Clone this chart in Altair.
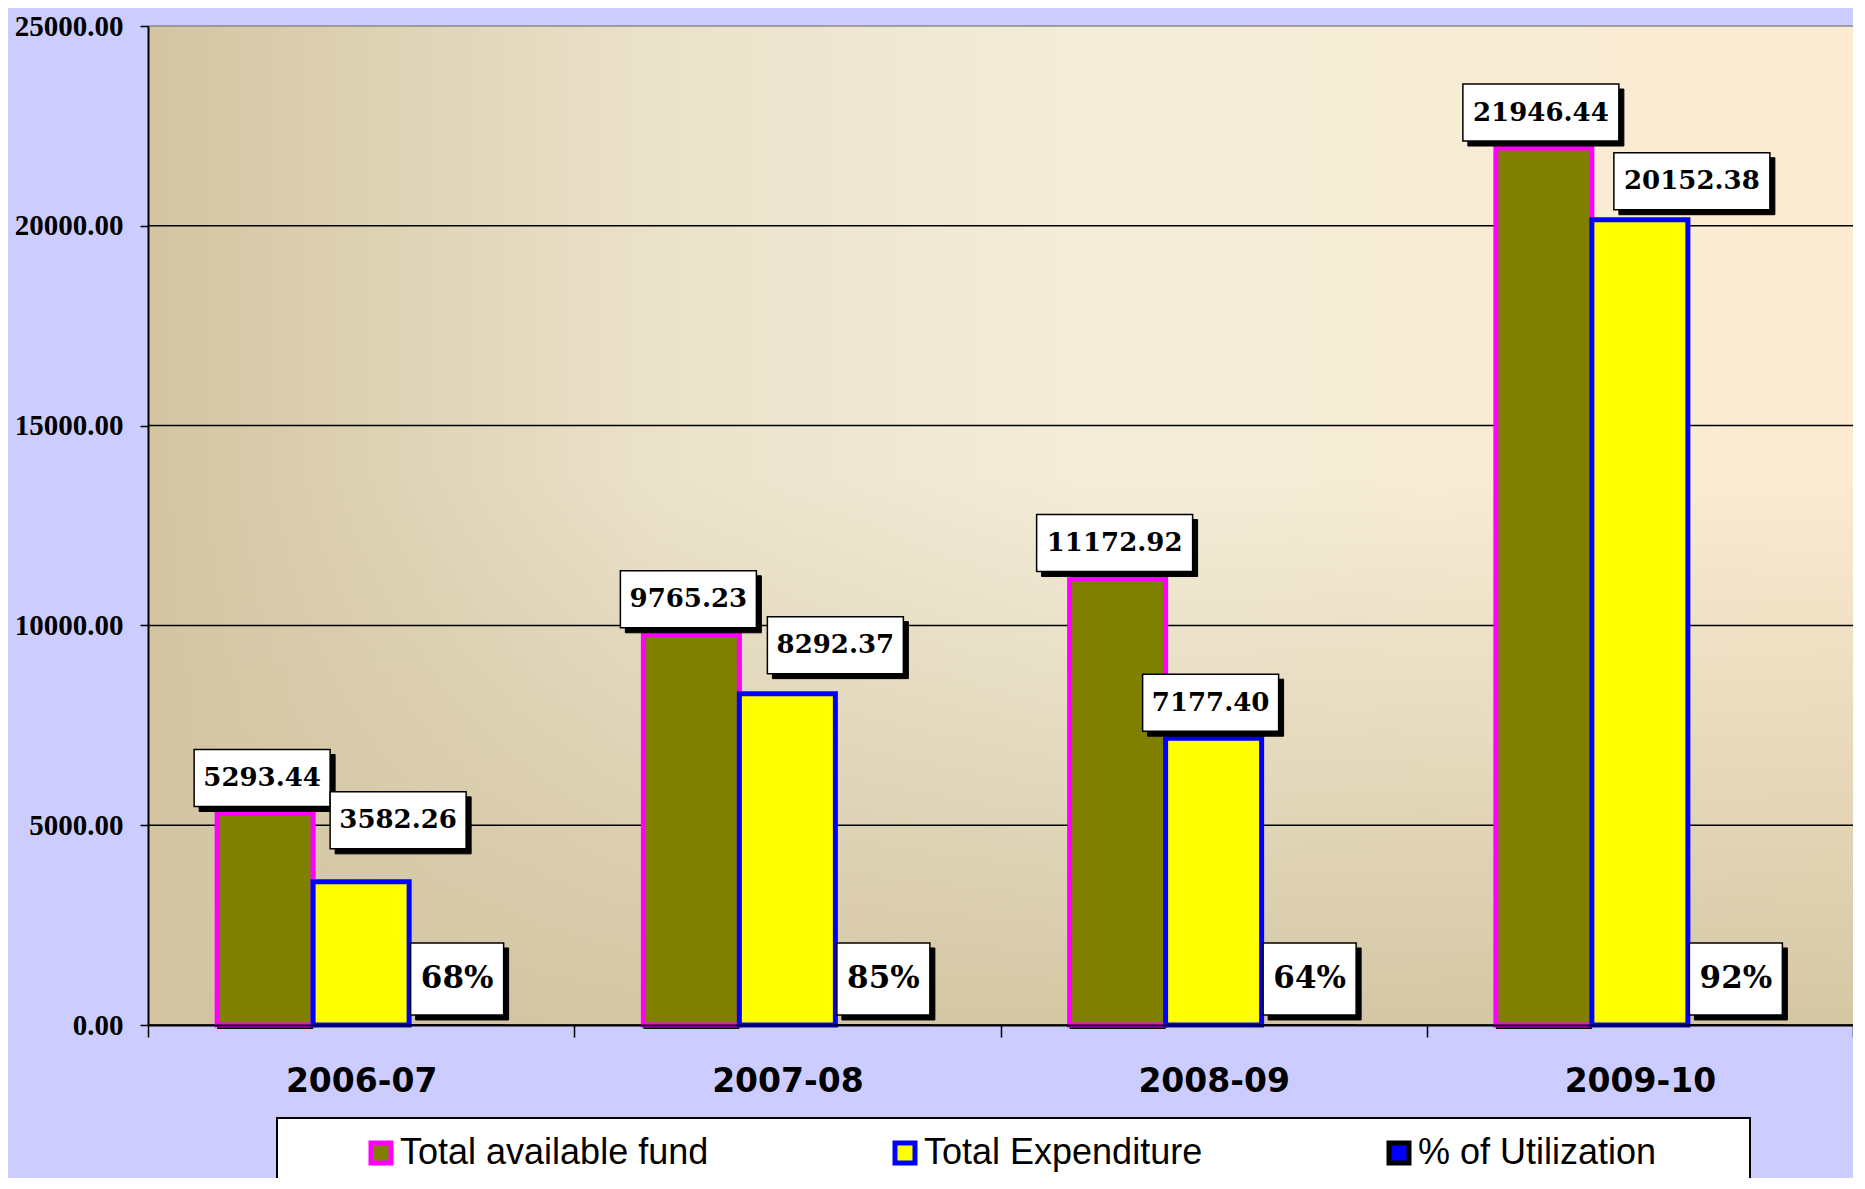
import altair as alt
import pandas as pd

# ---------------- data ----------------
years = ["2006-07", "2007-08", "2008-09", "2009-10"]
fund = [5293.44, 9765.23, 11172.92, 21946.44]
expenditure = [3582.26, 8292.37, 7177.40, 20152.38]
utilization_pct = [68, 85, 64, 92]
series_names = ["Total available fund", "Total Expenditure", "% of Utilization"]
y_ticks = [0, 5000, 10000, 15000, 20000, 25000]

# ---------------- style ----------------
fill_colors = ["#808000", "#FFFF00", "#0000FF"]
stroke_colors = ["#FF00FF", "#0000FF", "#000000"]
W, H = 1705, 999

# label nudges (pixels) for the expenditure labels, as placed in the original
exp_dx = [37, 48, -3, 52]
exp_gap = [33, 20, 7, 10]

rows = []
for i, yr in enumerate(years):
    rows.append(dict(year=yr, series=series_names[0], value=fund[i], label=f"{fund[i]:.2f}"))
    rows.append(dict(year=yr, series=series_names[1], value=expenditure[i], label=f"{expenditure[i]:.2f}"))
    rows.append(dict(year=yr, series=series_names[2], value=utilization_pct[i] / 100.0,
                     label=f"{utilization_pct[i]}%"))
bars = pd.DataFrame(rows)

X = alt.X("year:N", sort=years,
          scale=alt.Scale(paddingInner=0, paddingOuter=0),
          axis=alt.Axis(title=None, labelAngle=0, tickBand="extent", tickSize=12,
                        tickColor="black", tickWidth=1.5, domainColor="black",
                        domainWidth=2, labelFont="DejaVu Sans", labelFontWeight="bold",
                        labelFontSize=33, labelColor="black", labelPadding=44,
                        labelBaseline="middle", zindex=1))
XO = alt.XOffset("series:N", sort=series_names,
                 scale=alt.Scale(domain=series_names, paddingInner=0, paddingOuter=0.72))
Y = alt.Y("value:Q", scale=alt.Scale(domain=[0, 25000], nice=False, zero=True),
          axis=alt.Axis(values=y_ticks, format=".2f", title=None, grid=False,
                        domainColor="black", domainWidth=2, tickColor="black",
                        tickSize=8, tickWidth=1.5, labelFont="Liberation Serif",
                        labelFontWeight="bold", labelFontSize=29, labelColor="black",
                        labelPadding=17, zindex=1))

one = alt.Data(values=[{}])

# plot-area background gradient
bg_h = alt.Chart(one).mark_rect(
    fill={"gradient": "linear", "x1": 0, "x2": 1, "y1": 0, "y2": 0,
          "stops": [{"offset": 0, "color": "#D3C5A2"},
                    {"offset": 0.3, "color": "#EBE2CA"},
                    {"offset": 0.55, "color": "#F3EDD9"},
                    {"offset": 1, "color": "#FCEBD0"}]}
).encode(x=alt.value(0), x2=alt.value(W), y=alt.value(0), y2=alt.value(H))
bg_v = alt.Chart(one).mark_rect(
    fill={"gradient": "linear", "x1": 0, "x2": 0, "y1": 0, "y2": 1,
          "stops": [{"offset": 0, "color": "rgba(211,197,162,0)"},
                    {"offset": 0.45, "color": "rgba(211,197,162,0)"},
                    {"offset": 1, "color": "rgba(211,197,162,0.95)"}]}
).encode(x=alt.value(0), x2=alt.value(W), y=alt.value(0), y2=alt.value(H))

grid = alt.Chart(pd.DataFrame({"value": y_ticks})).mark_rule(strokeWidth=1.5).encode(
    y=Y, x=alt.value(0), x2=alt.value(W),
    color=alt.condition("datum.value == 25000", alt.value("#8a8a8a"), alt.value("black")))

legend_box = alt.Chart(one).mark_rect(fill="white", stroke="black", strokeWidth=2).encode(
    x=alt.value(129), x2=alt.value(1602), y=alt.value(1092), y2=alt.value(1260))

bar_shadow = alt.Chart(bars[bars.series == series_names[0]]).mark_bar(
    color="black", xOffset=6, yOffset=4).encode(x=X, xOffset=XO, y=Y)

LEG = alt.Legend(title=None, orient="none", legendX=215, legendY=1109,
                 direction="horizontal", columns=3, columnPadding=176,
                 symbolType="square", symbolSize=400, symbolStrokeWidth=5,
                 labelFont="Liberation Sans", labelFontSize=36, labelColor="black",
                 labelOffset=1, labelLimit=0, padding=0)

main_bars = alt.Chart(bars).mark_bar(opacity=1).encode(
    x=X, xOffset=XO, y=Y,
    fill=alt.Fill("series:N", sort=series_names,
                  scale=alt.Scale(domain=series_names, range=fill_colors), legend=LEG),
    stroke=alt.Stroke("series:N", sort=series_names,
                      scale=alt.Scale(domain=series_names, range=stroke_colors), legend=LEG),
    strokeWidth=alt.condition(f"datum.series == '{series_names[2]}'",
                              alt.value(1), alt.value(5)),
)

# ---------------- boxed labels ----------------
U = 100.0  # symbol unit in px (size = (2U)^2)


def rect_path(cx, bottom, w, h):
    x0, x1 = (cx - w / 2) / U, (cx + w / 2) / U
    y0, y1 = -(bottom + h) / U, -bottom / U
    return f"M{x0:.3f},{y0:.3f}L{x1:.3f},{y0:.3f}L{x1:.3f},{y1:.3f}L{x0:.3f},{y1:.3f}Z"


groups = [(bars[bars.series == series_names[0]], -3, 7, 57, 26, None),
          (bars[bars.series == series_names[2]], 0, 10, 72, 31, 93)]
for i, yr in enumerate(years):
    groups.append((bars[(bars.series == series_names[1]) & (bars.year == yr)],
                   exp_dx[i], exp_gap[i], 57, 26, None))

label_layers = []
for df, cx, bottom, h, fs, fixed_w in groups:
    d = df.copy()
    widths = [fixed_w if fixed_w else 20 * len(s) - 4 for s in d.label]
    d["path"] = [rect_path(cx, bottom, w, h) for w in widths]
    d["spath"] = [rect_path(cx + 5, bottom - 5, w, h) for w in widths]
    shadow = alt.Chart(d).mark_point(filled=True, fill="black", stroke="black",
                                     strokeWidth=1, size=(2 * U) ** 2, opacity=1).encode(
        x=X, xOffset=XO, y=Y, shape=alt.Shape("spath:N", scale=None, legend=None))
    box = alt.Chart(d).mark_point(filled=True, fill="white", stroke="black",
                                  strokeWidth=1.5, size=(2 * U) ** 2, opacity=1).encode(
        x=X, xOffset=XO, y=Y, shape=alt.Shape("path:N", scale=None, legend=None))
    txt = alt.Chart(d).mark_text(font="DejaVu Serif", fontWeight="bold", fontSize=fs,
                                 color="black", align="center", baseline="middle",
                                 dx=cx, dy=-(bottom + h / 2)).encode(
        x=X, xOffset=XO, y=Y, text="label:N")
    label_layers += [shadow, box, txt]

chart = alt.layer(bg_h, bg_v, grid, legend_box, bar_shadow, main_bars, *label_layers).properties(
    width=W, height=H,
    autosize=alt.AutoSizeParams(type="none"),
    padding={"left": 140, "top": 18, "right": 0, "bottom": 153},
    background="#CCCCFF",
).configure_view(stroke="transparent")

chart.save("out.html", embed_options={"renderer": "svg", "actions": False})
